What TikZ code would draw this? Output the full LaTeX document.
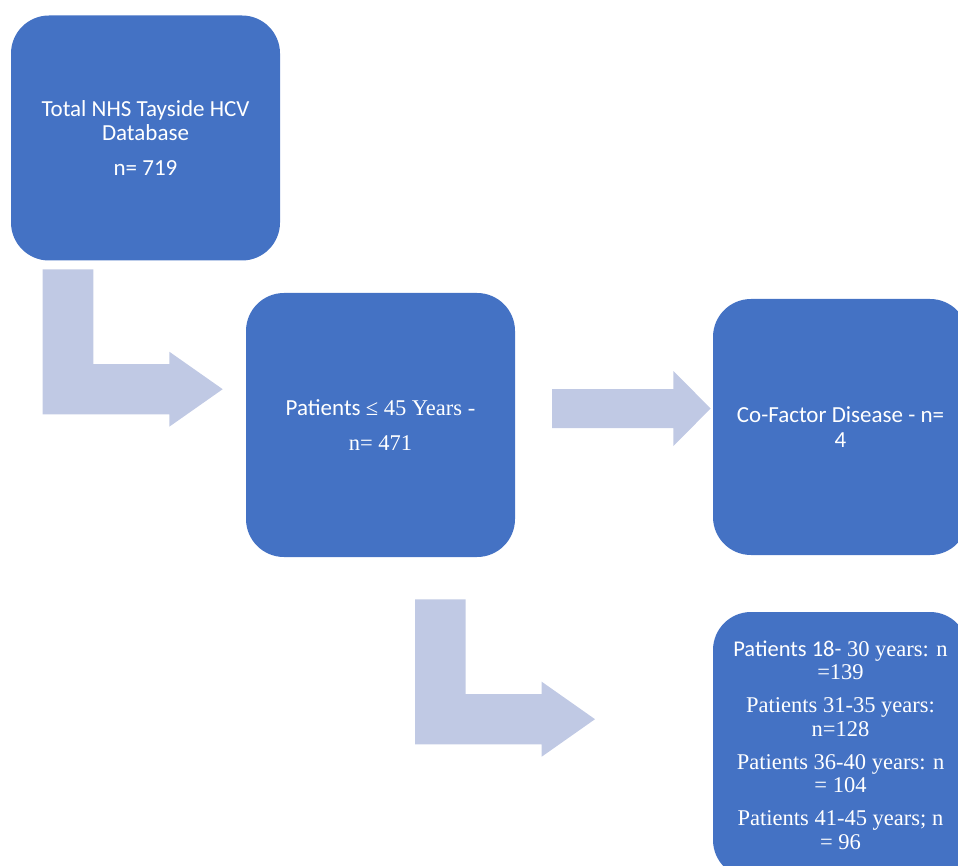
\documentclass[tikz,border=0pt]{standalone}
\usepackage{fontspec}
\newfontfamily\calfont{Carlito}
\newfontfamily\tnrfont{Liberation Serif}
\definecolor{boxblue}{HTML}{4472C4}
\definecolor{arrowblue}{HTML}{C0C9E4}
\begin{document}
\begin{tikzpicture}[x=1pt,y=-1pt,
  box/.style={fill=boxblue, rounded corners=38pt, inner sep=0pt, align=center, text=white,
    font=\calfont\fontsize{23}{24.5}\selectfont},
  blockarrow/.style={fill=arrowblue, draw=none}]
\path[use as bounding box] (0,0) rectangle (958,866);
\clip (0,0) rectangle (958,866);
% boxes
\node[box, minimum width=269pt, minimum height=245pt] (total) at (145.5,138)
  {Total NHS Tayside HCV\\Database\\[10pt]n= 719};
\node[box, minimum width=269pt, minimum height=264pt] (young) at (380.5,425)
  {Patients {\tnrfont\fontsize{22.5}{24.5}\selectfont ≤ 45 Years -}\\[10pt]{\tnrfont\fontsize{22.5}{24.5}\selectfont n= 471}};
\node[box, minimum width=255pt, minimum height=256pt] (cofactor) at (840.5,427)
  {Co-Factor Disease - n=\\4};
\node[box, minimum width=255pt, minimum height=266pt, font=\calfont\fontsize{22.5}{23.5}\selectfont] (ages) at (840.5,745)
  {Patients 18-{\tnrfont\ 30 years: n}\\{\tnrfont =139}\\[9.5pt]
   {\tnrfont Patients 31-35 years:}\\{\tnrfont n=128}\\[9.5pt]
   {\tnrfont Patients 36-40 years: n}\\{\tnrfont = 104}\\[9.5pt]
   {\tnrfont Patients 41-45 years; n}\\{\tnrfont = 96}};
% block arrows
\fill[blockarrow] (42.7,269.3) -- (93.3,269.3) -- (93.3,364) -- (169.3,364) -- (169.3,351.7)
  -- (222.7,389.2) -- (169.3,426.7) -- (169.3,414.3) -- (42.7,414.3) -- cycle;
\fill[blockarrow] (552,389) -- (673.3,389) -- (673.3,371) -- (710.7,408.5) -- (673.3,446)
  -- (673.3,428) -- (552,428) -- cycle;
\fill[blockarrow] (415,599.3) -- (465.7,599.3) -- (465.7,694) -- (541.7,694) -- (541.7,681.7)
  -- (595,719.2) -- (541.7,756.7) -- (541.7,744.3) -- (415,744.3) -- cycle;
\end{tikzpicture}
\end{document}
